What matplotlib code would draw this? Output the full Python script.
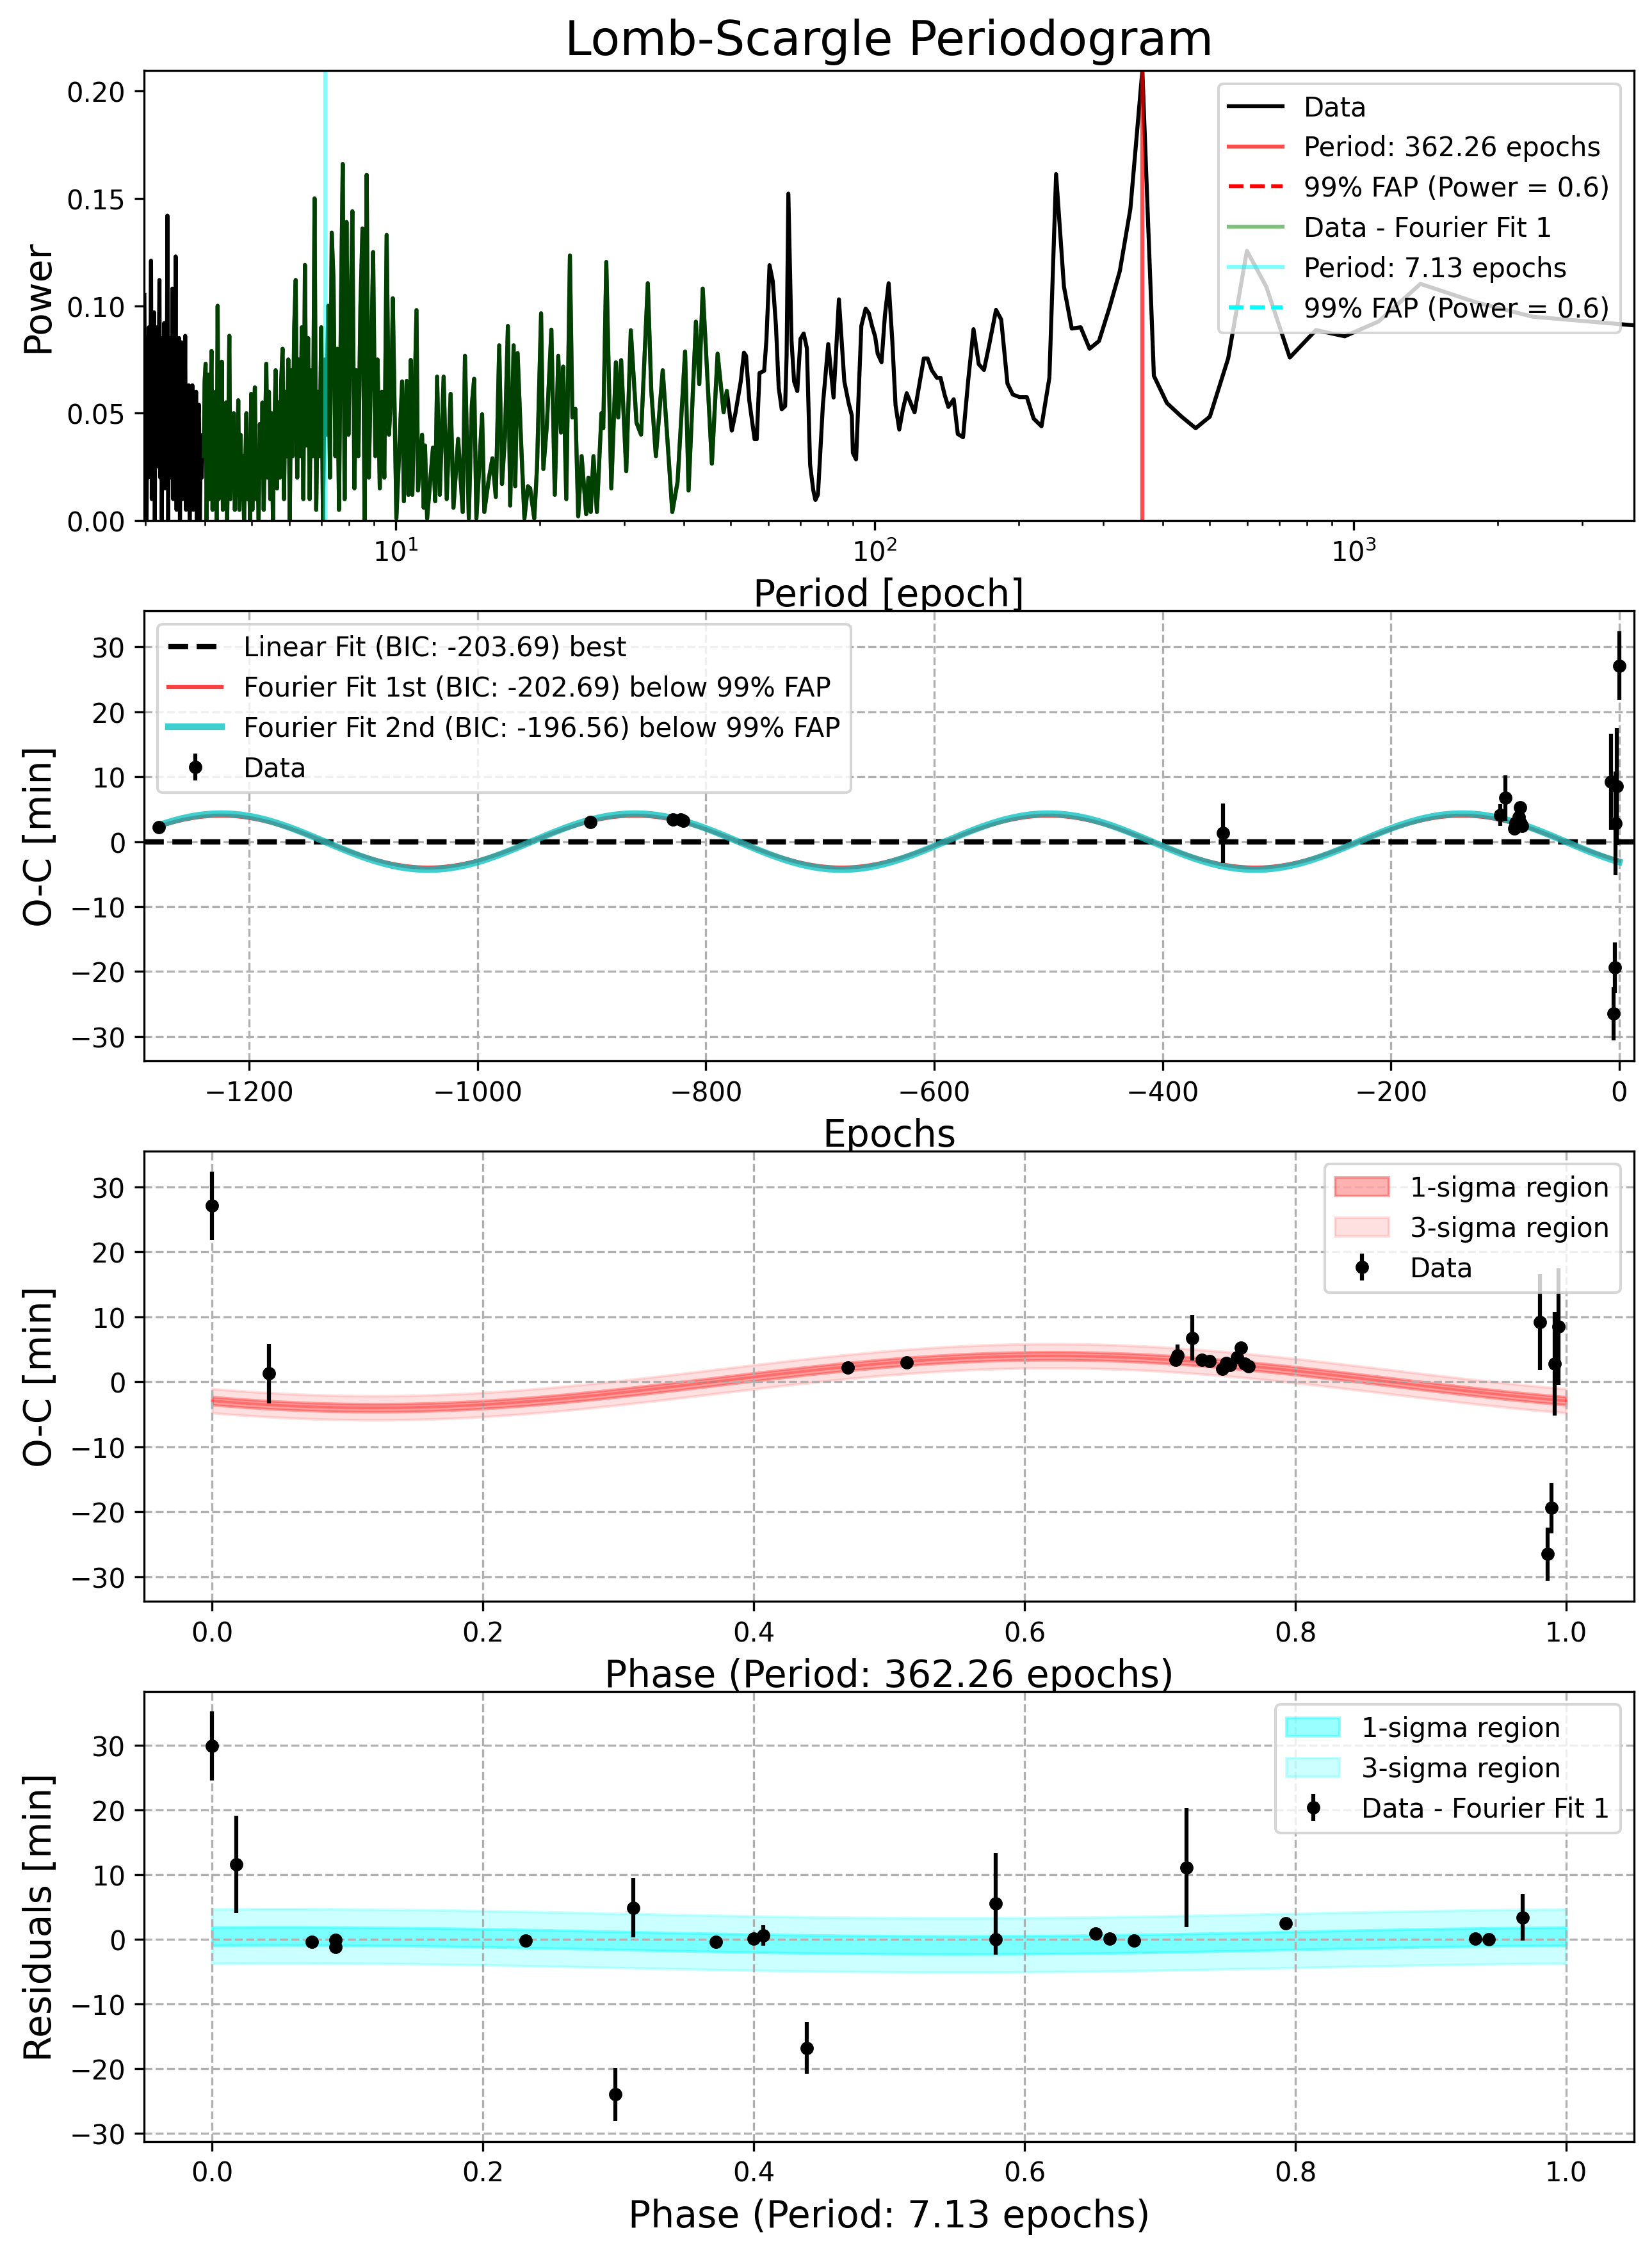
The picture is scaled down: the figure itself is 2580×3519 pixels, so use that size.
import numpy as np
import matplotlib
matplotlib.use("Agg")
import matplotlib.pyplot as plt

# ---- periodogram (power vs period) ----
# dense part, P ~3 - 9.8, on a linear frequency grid
f_hi = 1 / 2.99
f_lo = 1 / 9.8
power_dense = [
    0.105, 0.03, 0.085, 0.0, 0.07, 0.02, 0.09, 0.04, 0.06, 0.121,
    0.01, 0.08, 0.03, 0.097, 0.0, 0.075, 0.025, 0.09, 0.035, 0.07,
    0.112, 0.02, 0.085, 0.0, 0.065, 0.03, 0.092, 0.015, 0.07, 0.025,
    0.142, 0.0, 0.06, 0.03, 0.085, 0.02, 0.108, 0.01, 0.07, 0.03,
    0.123, 0.005, 0.075, 0.02, 0.085, 0.0, 0.06, 0.083, 0.01, 0.055,
    0.025, 0.086, 0.005, 0.06, 0.03, 0.063, 0.0, 0.05, 0.02, 0.063,
    0.005, 0.055, 0.015, 0.06, 0.0, 0.045, 0.054, 0.0, 0.035, 0.02,
    0.04, 0.03, 0.065, 0.073, 0.0, 0.04, 0.068, 0.01, 0.05, 0.079,
    0.005, 0.045, 0.02, 0.06, 0.0, 0.1, 0.01, 0.05, 0.02, 0.074,
    0.005, 0.045, 0.03, 0.055, 0.0, 0.04, 0.086, 0.01, 0.035, 0.015,
    0.05, 0.005, 0.03, 0.012, 0.056, 0.005, 0.04, 0.01, 0.03, 0.0,
    0.025, 0.05, 0.01, 0.035, 0.0, 0.059, 0.005, 0.045, 0.062, 0.01,
    0.03, 0.0, 0.045, 0.02, 0.055, 0.005, 0.04, 0.073, 0.02, 0.06,
    0.01, 0.05, 0.0, 0.04, 0.07, 0.015, 0.055, 0.02, 0.065, 0.08,
    0.01, 0.06, 0.03, 0.075, 0.0, 0.07, 0.03, 0.09, 0.112, 0.02,
    0.075, 0.03, 0.09, 0.01, 0.119, 0.035, 0.085, 0.01, 0.07, 0.03,
    0.15, 0.005, 0.06, 0.03, 0.09, 0.0, 0.075, 0.04, 0.1, 0.02,
    0.134, 0.112, 0.03, 0.08, 0.005, 0.095, 0.166, 0.01, 0.139, 0.04,
    0.09, 0.144, 0.015, 0.07, 0.03, 0.1, 0.136, 0.0, 0.161, 0.02,
    0.07, 0.125, 0.03, 0.075, 0.015, 0.06, 0.02, 0.133, 0.04, 0.06,
]
# sparser part, P > 9.8
period_sparse = [
    9.87, 10.04, 10.32, 10.41, 10.55, 10.64, 10.76, 10.84, 11.06, 11.14,
    11.36, 11.45, 11.52, 11.64, 11.97, 12.10, 12.21, 12.37, 12.60, 12.79,
    13.03, 13.21, 13.51, 13.81, 13.96, 14.22, 14.43, 14.59, 14.75, 15.16,
    15.32, 15.67, 15.93, 16.19, 16.46, 16.68, 16.92, 17.16, 17.35, 17.64,
    17.78, 17.98, 18.28, 18.58, 18.89, 19.10, 19.48, 19.74, 20.13, 20.35,
    20.69, 21.15, 21.50, 21.86, 22.15, 22.39, 22.72, 23.12, 23.40, 23.74,
    24.06, 24.46, 25.00, 25.27, 25.55, 25.89, 26.32, 26.91, 27.14, 27.54,
    28.21, 28.84, 29.16, 29.58, 30.31, 30.98, 31.84, 32.55, 33.62, 34.18,
    34.95, 36.12, 37.82, 38.79, 40.22, 40.90, 42.37, 43.06, 43.78, 45.75,
    47.02, 48.4, 49.15, 50.35, 51.22, 52.56, 53.37, 53.92, 54.76, 56.17,
    56.76, 57.52, 58.82, 59.44, 60.36, 61.30, 62.25, 63.08, 64.0, 65.06,
    65.52, 66.07, 67.09, 67.92, 68.97, 70.04, 71.12, 72.23, 73.35, 74.48,
    75.25, 76.18, 78.0, 80.03, 82.11, 84.25, 86.47, 88.27, 89.64, 90.1,
    91.5, 93.83, 95.79, 97.28, 98.79, 100.3, 101.5, 103.4, 105.1, 107.0,
    108.9, 110.6, 112.6, 114.6, 116.7, 119.4, 121.2, 126.7, 129.0, 131.6,
    134.9, 137.3, 140.1, 142.6, 146.3, 149.2, 153.0, 156.9, 160.9, 165.0,
    169.2, 173.5, 179.3, 183.8, 189.4, 194.3, 200.7, 207.9, 214.8, 223.1,
    231.7, 239.3, 248.5, 258.0, 269.3, 281.1, 294.1, 309.2, 325.1, 342.0,
    362.26, 382.9, 407.7, 437.3, 468.1, 501.1, 547.2, 598.8, 657.3, 735.9,
    834.5, 958.1, 1128, 1379, 1796, 2367, 3846,
]
power_sparse = [
    0.1035, 0.001, 0.0648, 0.009, 0.065, 0.012, 0.0748, 0.012, 0.098, 0.014,
    0.040, 0.006, 0.035, 0.001, 0.034, 0.009, 0.067, 0.012, 0.067, 0.010,
    0.059, 0.006, 0.038, 0.004, 0.0767, 0.001, 0.054, 0.066, 0.001, 0.0495,
    0.004, 0.020, 0.029, 0.011, 0.0816, 0.017, 0.039, 0.0906, 0.007, 0.0816,
    0.016, 0.078, 0.037, 0.001, 0.016, 0.015, 0.001, 0.025, 0.0965, 0.024,
    0.044, 0.0889, 0.012, 0.0767, 0.041, 0.0717, 0.010, 0.1234, 0.048, 0.052,
    0.002, 0.030, 0.003, 0.020, 0.004, 0.030, 0.004, 0.050, 0.043, 0.1204,
    0.015, 0.0737, 0.048, 0.0747, 0.023, 0.0886, 0.0456, 0.040, 0.1105, 0.0608,
    0.030, 0.070, 0.004, 0.018, 0.0787, 0.014, 0.0926, 0.0635, 0.108, 0.0265,
    0.0777, 0.0504, 0.0603, 0.0419, 0.0499, 0.0648, 0.0782, 0.0767, 0.0558, 0.0379,
    0.0379, 0.0687, 0.0697, 0.0836, 0.1189, 0.1115, 0.0906, 0.0618, 0.0518, 0.0533,
    0.0767, 0.1522, 0.0836, 0.0648, 0.0603, 0.0846, 0.0871, 0.0802, 0.026, 0.0141,
    0.0096, 0.0121, 0.0538, 0.0822, 0.0573, 0.103, 0.0648, 0.0548, 0.0489, 0.0315,
    0.0285, 0.0906, 0.0987, 0.0966, 0.0906, 0.0856, 0.0777, 0.0737, 0.0956, 0.1105,
    0.0836, 0.0538, 0.0424, 0.0518, 0.0593, 0.0538, 0.0504, 0.0755, 0.0755, 0.0701,
    0.0665, 0.0665, 0.0584, 0.0529, 0.0565, 0.0403, 0.0388, 0.0656, 0.0891, 0.0728,
    0.0701, 0.0818, 0.0981, 0.0936, 0.0638, 0.0587, 0.0575, 0.0575, 0.0475, 0.0439,
    0.0665, 0.1613, 0.1089, 0.0894, 0.0900, 0.0800, 0.0836, 0.0990, 0.1162, 0.1451,
    0.2096, 0.0674, 0.0547, 0.0484, 0.0430, 0.0484, 0.0755, 0.1256, 0.1089, 0.0759,
    0.0887, 0.0858, 0.0927, 0.1102, 0.1017, 0.0949, 0.0909,
]
# range where the residual periodogram (Data - Fourier Fit 1) was computed
resid_pmin = 3.97
resid_pmax = 50.3

best_period = 362.26
second_period = 7.13
fap_level = 0.6

# ---- O-C data ----
epoch = [-1279, -901, -829, -822, -820, -347, -104, -100, -92, -91, -90,
         -88, -87, -86, -85, -7, -5, -4, -3, -2, 0]
oc = [2.2, 3.0, 3.4, 3.4, 3.2, 1.3, 4.1, 6.75, 2.0, 2.9, 2.6,
      3.8, 5.3, 2.8, 2.4, 9.2, -26.5, -19.4, 2.8, 8.5, 27.1]
oc_err = [0.5, 0.5, 0.5, 0.5, 0.5, 4.6, 1.7, 3.5, 0.6, 0.5, 0.5,
          0.5, 0.8, 0.5, 0.5, 7.4, 4.1, 3.9, 8.0, 9.0, 5.3]

# fit parameters (amplitude [min], phase of upward zero crossing)
amp1, ph1 = 4.0, 0.37
amp2, ph2 = 4.3, 0.37
sig1_oc = 0.62

# residuals folded on the 7.13 epoch period
resid_phase = [0.0, 0.018, 0.0737, 0.091, 0.091, 0.2314, 0.298, 0.311, 0.372,
               0.400, 0.407, 0.439, 0.5788, 0.5788, 0.6525, 0.663, 0.681,
               0.7197, 0.793, 0.933, 0.943, 0.968]
resid = [29.9, 11.6, -0.4, -0.05, -1.2, -0.2, -24.0, 4.9, -0.4,
         0.1, 0.6, -16.8, 5.5, 0.0, 0.9, 0.1, -0.2,
         11.1, 2.5, 0.1, 0.0, 3.4]
resid_err = [5.3, 7.5, 0.9, 0.5, 0.8, 0.5, 4.1, 4.6, 0.8,
             0.5, 1.6, 4.0, 7.9, 0.5, 0.9, 0.4, 0.4,
             9.2, 0.8, 0.8, 0.4, 3.6]
amp_r, ph_r, off_r = 0.7, 0.05, -0.2
sig1_r = 1.4

# ------------------------------------------------------------------
period = np.concatenate([1 / np.linspace(f_hi, f_lo, len(power_dense)), period_sparse])
power = np.concatenate([power_dense, power_sparse])
m = (period >= resid_pmin) & (period <= resid_pmax)

epoch = np.array(epoch)
oc = np.array(oc)
oc_err = np.array(oc_err)

fig, axs = plt.subplots(4, 1, figsize=(8.6, 11.7333), dpi=300)
fig.subplots_adjust(left=0.0874, right=0.989, top=0.9685, bottom=0.0495, hspace=0.2)

# panel 1: periodogram
ax = axs[0]
ax.plot(period, power, color='black', lw=1.5, label='Data')
ax.axvline(best_period, color='red', alpha=0.7, lw=1.5, label=f'Period: {best_period:.2f} epochs')
ax.axhline(fap_level, color='red', ls='--', lw=1.5, label=f'99% FAP (Power = {fap_level})')
ax.plot(period[m], power[m], color='green', alpha=0.5, lw=1.5, label='Data - Fourier Fit 1')
ax.axvline(second_period, color='cyan', alpha=0.5, lw=1.5, label=f'Period: {second_period:.2f} epochs')
ax.axhline(fap_level, color='cyan', ls='--', lw=1.5, label=f'99% FAP (Power = {fap_level})')
ax.set_xscale('log')
ax.set_xlim(period.min(), period.max())
ax.set_ylim(0, power.max())
ax.set_xlabel('Period [epoch]', fontsize=14)
ax.set_ylabel('Power', fontsize=14)
ax.set_title('Lomb-Scargle Periodogram', fontsize=18)
ax.legend(loc='upper right')

# panel 2: O-C vs epoch
ax = axs[1]
ee = np.linspace(epoch.min(), epoch.max(), 2000)
ax.axhline(0, color='black', ls='--', lw=2, label='Linear Fit (BIC: -203.69) best')
ax.plot(ee, amp1 * np.sin(2 * np.pi * (ee / best_period - ph1)), color='red', alpha=0.75, lw=1.5,
        label='Fourier Fit 1st (BIC: -202.69) below 99% FAP')
ax.plot(ee, amp2 * np.sin(2 * np.pi * (ee / best_period - ph2)), color='c', alpha=0.75, lw=2.5,
        label='Fourier Fit 2nd (BIC: -196.56) below 99% FAP')
ax.errorbar(epoch, oc, yerr=oc_err, fmt='o', color='black', ms=4, label='Data')
ax.margins(x=0.01)
ax.grid(True, ls='--')
ax.set_xlabel('Epochs', fontsize=14)
ax.set_ylabel('O-C [min]', fontsize=14)
ax.legend(loc='upper left')

# panel 3: O-C folded on best period
ax = axs[2]
ph = np.linspace(0, 1, 500)
model = amp1 * np.sin(2 * np.pi * (ph - ph1))
ax.fill_between(ph, model - sig1_oc, model + sig1_oc, color='red', alpha=0.3, label='1-sigma region')
ax.fill_between(ph, model - 3 * sig1_oc, model + 3 * sig1_oc, color='red', alpha=0.12, label='3-sigma region')
ax.plot(ph, model, color='red', alpha=0.3, lw=1)
ax.errorbar(np.mod(epoch, best_period) / best_period, oc, yerr=oc_err, fmt='o', color='black', ms=4,
            label='Data')
ax.grid(True, ls='--')
ax.set_xlabel(f'Phase (Period: {best_period:.2f} epochs)', fontsize=14)
ax.set_ylabel('O-C [min]', fontsize=14)
ax.legend(loc='upper right')

# panel 4: residuals folded on second period
ax = axs[3]
model_r = amp_r * np.cos(2 * np.pi * (ph - ph_r)) + off_r
ax.fill_between(ph, model_r - sig1_r, model_r + sig1_r, color='cyan', alpha=0.4, label='1-sigma region')
ax.fill_between(ph, model_r - 3 * sig1_r, model_r + 3 * sig1_r, color='cyan', alpha=0.2, label='3-sigma region')
ax.errorbar(resid_phase, resid, yerr=resid_err, fmt='o', color='black', ms=4, label='Data - Fourier Fit 1')
ax.grid(True, ls='--')
ax.set_xlabel(f'Phase (Period: {second_period:.2f} epochs)', fontsize=14)
ax.set_ylabel('Residuals [min]', fontsize=14)
ax.legend(loc='upper right')

fig.savefig('out.png', dpi=300)
